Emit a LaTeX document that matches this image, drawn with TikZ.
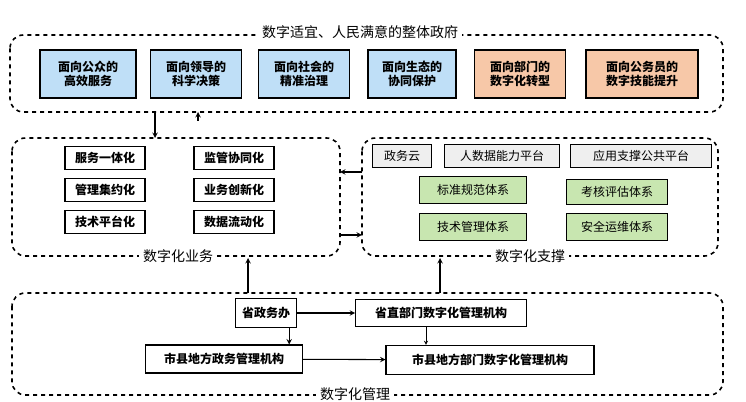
\documentclass[tikz,border=0pt]{standalone}
\usepackage{fontspec}
\setmainfont{Noto Sans CJK SC}
\usetikzlibrary{positioning}
\definecolor{goalblue}{HTML}{BFDFF7}
\definecolor{goalorange}{HTML}{F7C8A8}
\definecolor{supgreen}{HTML}{C8E6B0}
\definecolor{supgrey}{HTML}{EFEFEF}
\tikzset{
  area/.style={draw,dashed,very thick,rounded corners=10pt},
  areatitle/.style={fill=white,inner sep=3pt,font=\fontsize{10.5}{12}\selectfont},
  item/.style={draw,thick,fill=white,align=center,inner sep=2pt,font=\bfseries\fontsize{9}{11}\selectfont},
  plain/.style={item,font=\fontsize{9}{11}\selectfont},
  goal/.style={item,fill=goalblue,minimum height=36pt},
  link/.style={->,>=stealth,thick}
}
\begin{document}
\begin{tikzpicture}[x=0.75pt,y=-0.75pt]
\useasboundingbox (0,0) rectangle (746,402);
% areas
\draw[area] (10,35) rectangle (723,112);
\node[areatitle] (ttop) at (360,32) {数字适宜、人民满意的整体政府};
\draw[area] (12,138) rectangle (340,256);
\node[areatitle] (tbus) at (178,256) {数字化业务};
\draw[area] (362,138) rectangle (718,256);
\node[areatitle] (tsup) at (530,256) {数字化支撑};
\draw[area] (12,293) rectangle (723,395);
\node[areatitle] (tman) at (355,394) {数字化管理};
% goals
\node[goal,minimum width=72pt] (g1) at (88,74) {面向公众的\\高效服务};
\node[goal,minimum width=68pt] (g2) at (196,74) {面向领导的\\科学决策};
\node[goal,minimum width=68pt] (g3) at (304,74) {面向社会的\\精准治理};
\node[goal,minimum width=66pt] (g4) at (412,74) {面向生态的\\协同保护};
\node[goal,fill=goalorange,minimum width=68pt] (g5) at (520,74) {面向部门的\\数字化转型};
\node[goal,fill=goalorange,minimum width=84pt] (g6) at (642,74) {面向公务员的\\数字技能提升};
% business
\foreach \n/\t/\x/\y in {b1/服务一体化/105/158, b2/监管协同化/234/158,
  b3/管理集约化/105/190, b4/业务创新化/234/190,
  b5/技术平台化/105/222, b6/数据流动化/234/222}
  \node[item,minimum width=60pt,minimum height=17pt] (\n) at (\x,\y) {\t};
% support
\node[plain,fill=supgrey,minimum height=17pt,minimum width=44pt] (s1) at (402,156) {政务云};
\node[plain,fill=supgrey,minimum height=17pt,minimum width=86pt] (s2) at (502,156) {人数据能力平台};
\node[plain,fill=supgrey,minimum height=17pt,minimum width=106pt] (s3) at (641,156) {应用支撑公共平台};
\node[plain,fill=supgreen,minimum height=20pt,minimum width=80pt] (s4) at (473,190) {标准规范体系};
\node[plain,fill=supgreen,minimum height=19pt,minimum width=76pt] (s5) at (617,192) {考核评估体系};
\node[plain,fill=supgreen,minimum height=20pt,minimum width=80pt] (s6) at (473,227) {技术管理体系};
\node[plain,fill=supgreen,minimum height=20pt,minimum width=76pt] (s7) at (617,227) {安全运维体系};
% management
\node[item,minimum height=22pt,minimum width=46pt] (m1) at (266,313) {省政务办};
\node[item,minimum height=20pt,minimum width=128pt] (m2) at (441,313) {省直部门数字化管理机构};
\node[item,minimum height=21pt,minimum width=118pt] (m3) at (224,359) {市县地方政务管理机构};
\node[item,minimum height=22pt,minimum width=156pt] (m4) at (490,360) {市县地方部门数字化管理机构};
% anchors on area borders
\coordinate (c1) at (155,112); \coordinate (c2) at (155,138);
\coordinate (c3) at (198,121); \coordinate (c4) at (198,112);
\coordinate (c5) at (362,172); \coordinate (c6) at (340,172);
\coordinate (c7) at (340,235); \coordinate (c8) at (362,235);
\coordinate (c9) at (248,293); \coordinate (c10) at (248,258);
\coordinate (c11) at (440,293); \coordinate (c12) at (440,258);
% connectors
\draw[link] (c1) -- (c2);
\draw[link] (c3) -- (c4);
\draw[link] (c5) -- (c6);
\draw[link] (c7) -- (c8);
\draw[link] (c9) -- (c10);
\draw[link] (c11) -- (c12);
\draw[link] (m1) -- (m2);
\draw[link] (m1.south east) ++(-8,0) coordinate (d1) -- (d1 |- m3.north);
\draw[link,thin] (m2.south) ++(-15,0) coordinate (d2) -- (d2 |- m4.north);
\draw[link] (m3) -- (m4);
\end{tikzpicture}
\end{document}
